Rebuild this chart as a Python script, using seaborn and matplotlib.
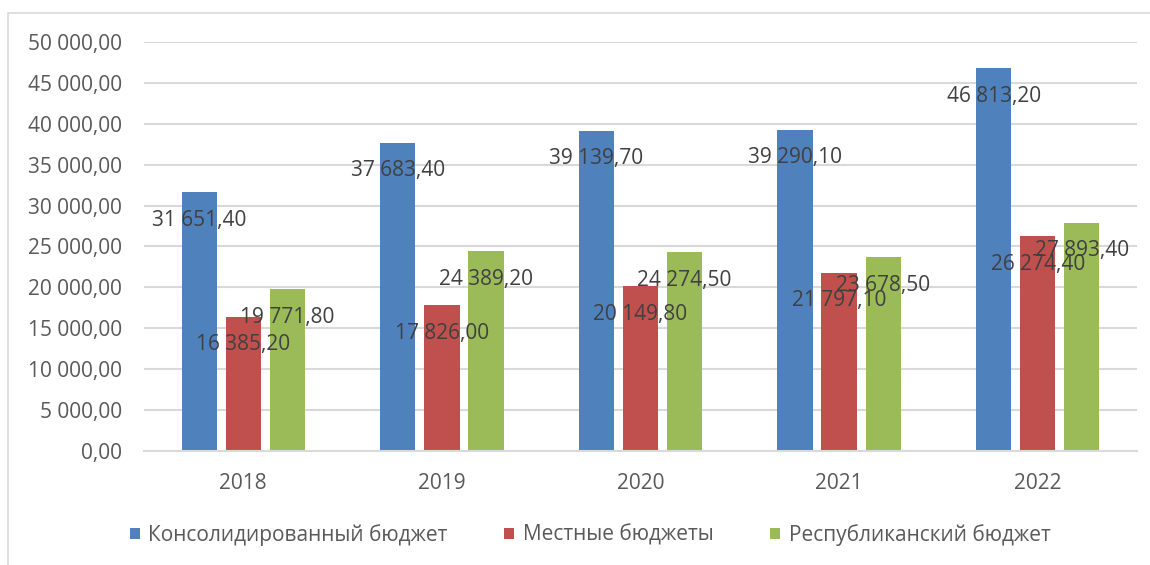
import pandas as pd
import numpy as np
import matplotlib.pyplot as plt
import seaborn as sns
from matplotlib.patches import Rectangle, Patch

# ==========================================
# DATA
# ==========================================
years = ['2018', '2019', '2020', '2021', '2022']
series_names = ['Консолидированный бюджет', 'Местные бюджеты', 'Республиканский бюджет']
konsolid = [31651.40, 37683.40, 39139.70, 39290.10, 46813.20]
mestnye = [16385.20, 17826.00, 20149.80, 21797.10, 26274.40]
respub = [19771.80, 24389.20, 24274.50, 23678.50, 27893.40]
y_ticks = [0, 5000, 10000, 15000, 20000, 25000, 30000, 35000, 40000, 45000, 50000]

colors = ['#4F81BD', '#C0504D', '#9BBB59']

df = pd.DataFrame({
    'year': years * 3,
    'budget': [series_names[0]] * 5 + [series_names[1]] * 5 + [series_names[2]] * 5,
    'value': konsolid + mestnye + respub,
})


def fmt_ru(v):
    return f"{v:,.2f}".replace(',', ' ').replace('.', ',')


sns.set_style('white')
plt.rcParams['font.family'] = ['Open Sans', 'DejaVu Sans']

fig = plt.figure(figsize=(11.5, 5.65), dpi=100)
ax = fig.add_axes([144 / 1150, 1 - 451 / 565, (1137 - 144) / 1150, (451 - 42) / 565])

# рамка вокруг диаграммы
fig.patches.append(Rectangle((8 / 1150, -0.1), 1.2, 1 - 13 / 565 + 0.1,
                             transform=fig.transFigure, fill=False,
                             edgecolor='#D9D9D9', linewidth=1.2, zorder=0))

sns.barplot(data=df, x='year', y='value', hue='budget', palette=colors,
            width=0.665, gap=0.2, saturation=1, ax=ax, legend=False,
            edgecolor='none')

ax.set_ylim(0, 50000)
ax.set_yticks(y_ticks)
ax.set_yticklabels([fmt_ru(t) for t in y_ticks])
ax.yaxis.grid(True, color='#D9D9D9', linewidth=1.5)
ax.set_axisbelow(True)
for s in ['top', 'right', 'left']:
    ax.spines[s].set_visible(False)
ax.spines['bottom'].set_color('#D9D9D9')
ax.spines['bottom'].set_linewidth(1.5)
ax.set_xlabel('')
ax.set_ylabel('')
ax.tick_params(axis='y', length=0, pad=16, labelsize=15, labelcolor='#595959')
ax.tick_params(axis='x', length=0, pad=16, labelsize=15, labelcolor='#595959')

# подписи значений
for cont in ax.containers:
    for bar in cont:
        h = bar.get_height()
        ax.annotate(fmt_ru(h), (bar.get_x() + bar.get_width() / 2, h),
                    xytext=(0, -28), textcoords='offset pixels',
                    ha='center', va='center', fontsize=15, color='#404040')

handles = [Patch(facecolor=c, edgecolor='none') for c in colors]
fig.legend(handles, series_names, loc='center', bbox_to_anchor=(590 / 1150, 1 - 535 / 565),
           ncol=3, frameon=False, fontsize=15, labelcolor='#595959',
           handlelength=0.5, handleheight=0.5, handletextpad=0.4, columnspacing=2.7)

fig.savefig('out.png', dpi=100)
